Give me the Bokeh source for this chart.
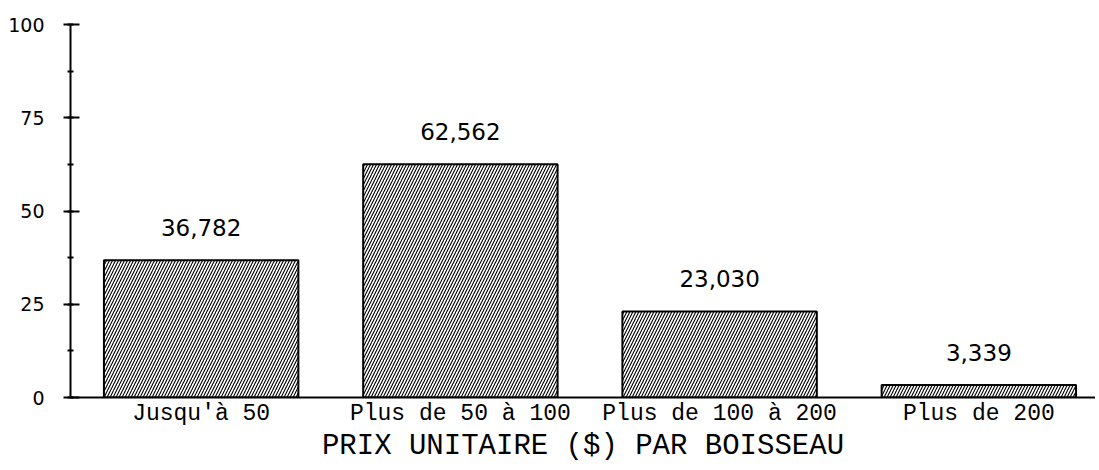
from bokeh.plotting import figure
from bokeh.models import Range1d, FixedTicker, SingleIntervalTicker, ColumnDataSource
from bokeh.embed import file_html
from bokeh.resources import INLINE
from bokeh.core.properties import value

categories = ["Jusqu'à 50", "Plus de 50 à 100", "Plus de 100 à 200", "Plus de 200"]
values = [36.782, 62.562, 23.030, 3.339]
value_labels = ["36,782", "62,562", "23,030", "3,339"]
y_ticks = [0, 25, 50, 75, 100]
x_title = "PRIX UNITAIRE ($) PAR BOISSEAU"

xs = list(range(len(categories)))
src = ColumnDataSource(dict(x=xs, top=values, lab=value_labels))

p = figure(width=1095, height=468, output_backend="svg", toolbar_location=None,
           x_range=Range1d(-0.504, 3.45), y_range=Range1d(0, 100),
           min_border_left=70, min_border_right=0, min_border_top=24, min_border_bottom=71)
p.outline_line_color = None
p.xgrid.visible = False
p.ygrid.visible = False
p.background_fill_color = "white"
p.border_fill_color = "white"

p.vbar(x="x", top="top", width=0.75, source=src, fill_color="white",
       line_color="black", line_width=2,
       hatch_pattern="right_diagonal_line", hatch_color="black",
       hatch_scale=6, hatch_weight=1.1)

p.text(x="x", y="top", text="lab", source=src, text_align="center",
       text_baseline="middle", y_offset=-33, text_font=value("DejaVu Sans"),
       text_font_size="23px", text_color="black")

# y axis
p.yaxis.ticker = SingleIntervalTicker(interval=25, num_minor_ticks=2)
p.yaxis.axis_line_width = 2
p.yaxis.axis_line_color = "black"
p.yaxis.major_tick_in = 9
p.yaxis.major_tick_out = 7
p.yaxis.major_tick_line_width = 2
p.yaxis.minor_tick_in = 3
p.yaxis.minor_tick_out = 3
p.yaxis.minor_tick_line_width = 2
p.yaxis.major_label_standoff = 19
p.yaxis.major_label_text_font = "DejaVu Sans"
p.yaxis.major_label_text_font_size = "19px"
p.yaxis.major_label_text_color = "black"

# x axis
p.xaxis.ticker = FixedTicker(ticks=xs)
p.xaxis.major_label_overrides = {i: c for i, c in zip(xs, categories)}
p.xaxis.axis_line_width = 2
p.xaxis.axis_line_color = "black"
p.xaxis.major_tick_in = 0
p.xaxis.major_tick_out = 0
p.xaxis.minor_tick_in = 0
p.xaxis.minor_tick_out = 0
p.xaxis.major_label_standoff = 3
p.xaxis.major_label_text_font = "Liberation Mono"
p.xaxis.major_label_text_font_size = "23px"
p.xaxis.major_label_text_color = "black"
p.xaxis.axis_label = x_title
p.xaxis.axis_label_standoff = 0
p.xaxis.axis_label_text_font = "Liberation Mono"
p.xaxis.axis_label_text_font_size = "29px"
p.xaxis.axis_label_text_font_style = "normal"
p.xaxis.axis_label_text_color = "black"

open("out.html", "w").write(file_html(p, INLINE))
